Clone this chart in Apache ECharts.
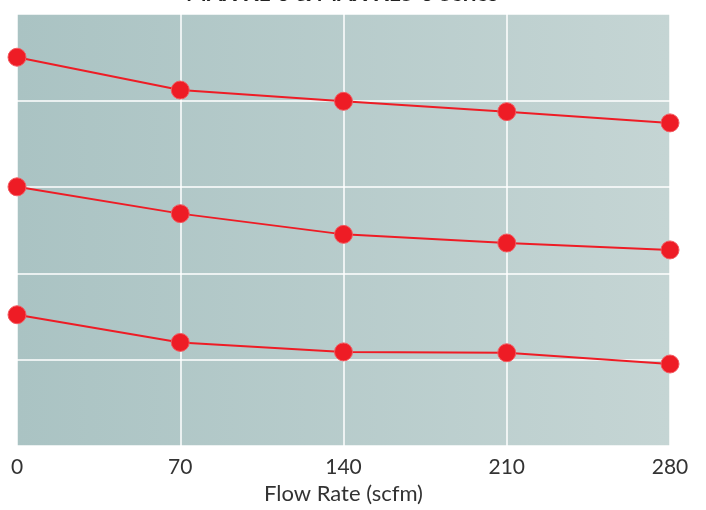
<!DOCTYPE html>
<html>
<head>
<meta charset="utf-8">
<script src="https://cdn.jsdelivr.net/npm/echarts@6/dist/echarts.min.js"></script>
<style>
html,body{margin:0;padding:0;background:#fff;}
#chart{width:706px;height:510px;}
</style>
</head>
<body>
<div id="chart"></div>
<script>
const chartTitle = 'MAX-XL-3 & MAX-XLS-3 Series';
const xAxisTitle = 'Flow Rate (scfm)';
const flowRates = [0, 70, 140, 210, 280];
const seriesA = [4.50, 4.12, 3.99, 3.87, 3.74];
const seriesB = [3.00, 2.69, 2.45, 2.35, 2.27];
const seriesC = [1.52, 1.20, 1.09, 1.08, 0.95];

const pair = (vals) => flowRates.map((x, i) => [x, vals[i]]);

const chart = echarts.init(document.getElementById('chart'), null, {renderer: 'canvas'});
const lineSeries = (name, vals) => ({
  name: name,
  type: 'line',
  data: pair(vals),
  symbol: 'circle',
  symbolSize: 18,
  lineStyle: {color: '#ee1c25', width: 2},
  itemStyle: {color: '#ee1c25', borderColor: '#f25a60', borderWidth: 1},
  emphasis: {disabled: true},
  z: 3
});

chart.setOption({
  animation: false,
  backgroundColor: '#ffffff',
  graphic: [{
    type: 'text',
    x: 342,
    y: 5,
    style: {
      text: chartTitle,
      font: 'bold 22px Lato',
      fill: '#222222',
      align: 'center',
      verticalAlign: 'bottom'
    }
  }],
  grid: {
    left: 17, right: 36, top: 14, bottom: 63,
    show: true,
    borderWidth: 0,
    backgroundColor: new echarts.graphic.LinearGradient(0, 0, 1, 0, [
      {offset: 0, color: '#aac3c3'},
      {offset: 1, color: '#c5d5d4'}
    ])
  },
  xAxis: {
    type: 'value',
    min: 0, max: 280, interval: 70,
    name: xAxisTitle,
    nameLocation: 'middle',
    nameGap: 31,
    nameTextStyle: {fontFamily: 'Lato', fontSize: 22, color: '#333333'},
    axisLine: {show: false},
    axisTick: {show: false},
    axisLabel: {fontFamily: 'Lato', fontSize: 21, color: '#333333', margin: 11},
    splitLine: {show: true, lineStyle: {color: '#ffffff', width: 1.5}}
  },
  yAxis: {
    type: 'value',
    min: 0, max: 5, interval: 1,
    axisLine: {show: false},
    axisTick: {show: false},
    axisLabel: {show: false},
    splitLine: {show: true, lineStyle: {color: '#ffffff', width: 1.5}}
  },
  series: [
    lineSeries('A', seriesA),
    lineSeries('B', seriesB),
    lineSeries('C', seriesC)
  ]
});
</script>
</body>
</html>
